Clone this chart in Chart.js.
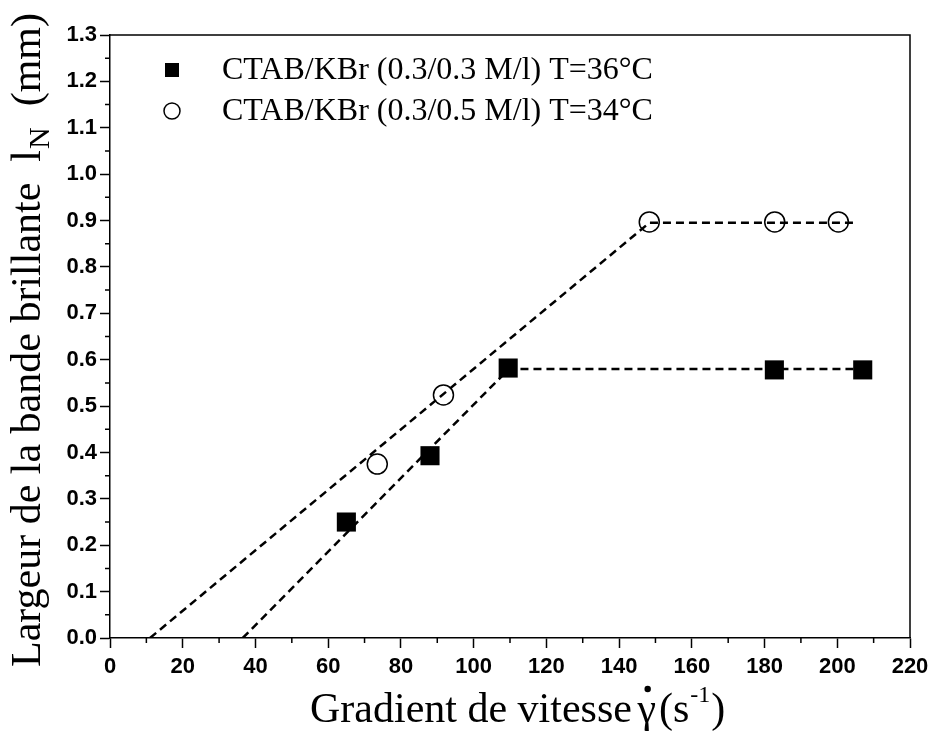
<!DOCTYPE html>
<html>
<head>
<meta charset="utf-8">
<script src="https://cdn.jsdelivr.net/npm/chart.js@4.4.0/dist/chart.umd.min.js"></script>
<style>
html,body{margin:0;padding:0;background:#fff;}
#wrap{width:936px;height:732px;}
</style>
</head>
<body>
<div id="wrap"><canvas id="c" width="936" height="732"></canvas></div>
<script>
// Series A: CTAB/KBr (0.3/0.3 M/l) T=36°C (filled squares)
const gradA = [65, 88, 109.5, 182.7, 207];
const widthA = [0.25, 0.393, 0.582, 0.578, 0.578];
// Series B: CTAB/KBr (0.3/0.5 M/l) T=34°C (open circles)
const gradB = [73.5, 91.7, 148.3, 182.8, 200.3];
const widthB = [0.375, 0.524, 0.897, 0.897, 0.897];
// Dashed guide lines
const fitAx = [36.5, 109.7, 207];
const fitAy = [0, 0.58, 0.58];
const fitBx = [11, 148.3, 204.5];
const fitBy = [0, 0.895, 0.895];
// Labels
const legendLabels = ['CTAB/KBr (0.3/0.3 M/l) T=36°C', 'CTAB/KBr (0.3/0.5 M/l) T=34°C'];
const xTitle = 'Gradient de vitesse';
const yTitle = 'Largeur de la bande brillante';

const pts = (xs, ys) => xs.map((x, i) => ({x: x, y: ys[i]}));

const bgPlugin = {
  id: 'bg',
  beforeDraw(chart) {
    const ctx = chart.ctx;
    ctx.save();
    ctx.fillStyle = '#fff';
    ctx.fillRect(0, 0, chart.width, chart.height);
    ctx.restore();
  }
};

const decoPlugin = {
  id: 'deco',
  afterDraw(chart) {
    const ctx = chart.ctx;
    const a = chart.chartArea;
    const xs = chart.scales.x, ys = chart.scales.y;
    ctx.save();
    ctx.strokeStyle = '#000';
    ctx.lineWidth = 1.5;
    // top & right frame
    ctx.beginPath();
    ctx.moveTo(a.left, a.top); ctx.lineTo(a.right, a.top); ctx.lineTo(a.right, a.bottom);
    ctx.stroke();
    // minor ticks
    ctx.beginPath();
    for (let v = 10; v < 220; v += 20) {
      const px = xs.getPixelForValue(v);
      ctx.moveTo(px, a.bottom); ctx.lineTo(px, a.bottom + 5);
    }
    for (let k = 0; k < 13; k++) {
      const py = ys.getPixelForValue(k * 0.1 + 0.05);
      ctx.moveTo(a.left, py); ctx.lineTo(a.left - 5, py);
    }
    ctx.stroke();

    const serif = '"Liberation Serif", "Times New Roman", serif';
    // legend
    const lx = 172, ly1 = 70, ly2 = 111;
    ctx.fillStyle = '#000';
    ctx.fillRect(lx - 7, ly1 - 7, 14, 14);
    ctx.lineWidth = 1.5;
    ctx.beginPath(); ctx.arc(lx, ly2, 8, 0, Math.PI * 2); ctx.stroke();
    ctx.font = '32px ' + serif;
    ctx.textBaseline = 'middle';
    ctx.textAlign = 'left';
    ctx.fillText(legendLabels[0], 222, ly1 + 1);
    ctx.fillText(legendLabels[1], 222, ly2 + 1);

    // x title
    ctx.textBaseline = 'alphabetic';
    ctx.font = '42px ' + serif;
    let x0 = 310, yb = 722;
    ctx.fillText(xTitle, x0, yb);
    let w = ctx.measureText(xTitle + ' ').width;
    let gx = x0 + w - 5;
    ctx.fillText('γ', gx, yb);
    const gw = ctx.measureText('γ').width;
    ctx.beginPath(); ctx.arc(gx + gw / 2 + 1, yb - 33, 3.2, 0, Math.PI * 2); ctx.fill();
    let cx = gx + gw + 3;
    ctx.fillText('(s', cx, yb);
    cx += ctx.measureText('(s').width;
    ctx.font = '24px ' + serif;
    ctx.fillText('-1', cx + 1, yb - 20);
    cx += ctx.measureText('-1').width + 2;
    ctx.font = '42px ' + serif;
    ctx.fillText(')', cx, yb);

    // y title (rotated)
    ctx.save();
    ctx.translate(40, 667);
    ctx.rotate(-Math.PI / 2);
    ctx.font = '42px ' + serif;
    ctx.fillText(yTitle + '  l', 0, 0);
    let yw = ctx.measureText(yTitle + '  l').width;
    ctx.font = '30px ' + serif;
    ctx.fillText('N', yw + 1, 9);
    yw += ctx.measureText('N').width + 1;
    ctx.font = '42px ' + serif;
    ctx.fillText('  (mm)', yw, 0);
    ctx.restore();

    ctx.restore();
  }
};

const tickFont = {family: '"Liberation Sans", Arial, sans-serif', size: 22, weight: 'bold'};

new Chart(document.getElementById('c'), {
  type: 'scatter',
  data: {
    datasets: [
      {label: 'fitA', data: pts(fitAx, fitAy), showLine: true, borderColor: '#000', borderWidth: 2.5, borderDash: [8, 5], pointRadius: 0, fill: false},
      {label: 'fitB', data: pts(fitBx, fitBy), showLine: true, borderColor: '#000', borderWidth: 2.5, borderDash: [8, 5], pointRadius: 0, fill: false},
      {label: legendLabels[0], data: pts(gradA, widthA), pointStyle: 'rect', pointRadius: 13.5, backgroundColor: '#000', borderColor: '#000', borderWidth: 0},
      {label: legendLabels[1], data: pts(gradB, widthB), pointStyle: 'circle', pointRadius: 10, backgroundColor: 'rgba(0,0,0,0)', borderColor: '#000', borderWidth: 1.5}
    ]
  },
  options: {
    responsive: false,
    animation: false,
    layout: {padding: {top: 35, right: 26, left: 0, bottom: 0}},
    plugins: {legend: {display: false}, tooltip: {enabled: false}},
    scales: {
      x: {
        type: 'linear', min: 0, max: 220,
        afterFit(s) { s.height = 94; },
        ticks: {stepSize: 20, font: tickFont, color: '#000', padding: 6, maxRotation: 0},
        grid: {drawOnChartArea: false, drawTicks: true, tickLength: 10, color: '#000', tickWidth: 1.5},
        border: {display: true, color: '#000', width: 1.5}
      },
      y: {
        type: 'linear', min: 0, max: 1.3,
        afterFit(s) { s.width = 110; },
        ticks: {stepSize: 0.1, font: tickFont, color: '#000', padding: 3, callback: v => v.toFixed(1)},
        grid: {drawOnChartArea: false, drawTicks: true, tickLength: 10, color: '#000', tickWidth: 1.5},
        border: {display: true, color: '#000', width: 1.5}
      }
    }
  },
  plugins: [bgPlugin, decoPlugin]
});
</script>
</body>
</html>
